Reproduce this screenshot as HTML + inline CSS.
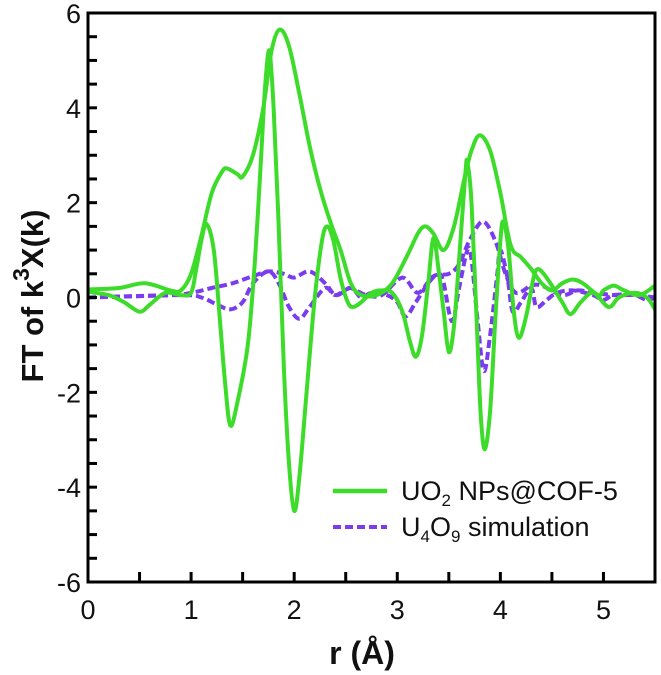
<!DOCTYPE html>
<html><head><meta charset="utf-8"><style>
html,body{margin:0;padding:0;background:#fff;}
svg{display:block;font-family:"Liberation Sans",Arial,sans-serif;}
</style></head><body>
<svg id="chart" width="661" height="675" viewBox="0 0 661 675">
<g id="marks"></g>
<g id="axes"></g>
<g>
  <line x1="333" y1="491" x2="387" y2="491" stroke="#3ddc2a" stroke-width="4.5"/>
  <text x="401" y="500" font-size="27" fill="#111">UO<tspan font-size="17" dy="6">2</tspan><tspan dy="-6"> NPs@COF-5</tspan></text>
  <line x1="333" y1="527" x2="387" y2="527" stroke="#7b3cf0" stroke-width="4" stroke-dasharray="8,4"/>
  <text x="401" y="536" font-size="27" fill="#111">U<tspan font-size="17" dy="6">4</tspan><tspan dy="-6">O</tspan><tspan font-size="17" dy="6">9</tspan><tspan dy="-6"> simulation</tspan></text>
</g>
<text x="362" y="664" font-size="32" font-weight="bold" text-anchor="middle" fill="#111">r (Å)</text>
<text transform="translate(43,296) rotate(-90)" font-size="31" font-weight="bold" text-anchor="middle" fill="#111">FT of k<tspan font-size="23" dy="-14">3</tspan><tspan dy="14">X(k)</tspan></text>
</svg>
<script>
const xTicks=[0,1,2,3,4,5];
const yTicks=[-6,-4,-2,0,2,4,6];
const uo2A_r=[0,0.3,0.55,0.8,0.9,1.0,1.1,1.2,1.3,1.35,1.45,1.5,1.6,1.7,1.78,1.86,1.95,2.05,2.15,2.25,2.35,2.45,2.55,2.65,2.8,2.95,3.1,3.2,3.27,3.35,3.45,3.55,3.65,3.72,3.8,3.9,4.0,4.1,4.2,4.3,4.4,4.5,4.6,4.7,4.8,4.95,5.0,5.1,5.2,5.35,5.5];
const uo2A_v=[0.17,0.2,0.3,0.15,0.15,0.5,1.3,2.2,2.65,2.72,2.6,2.55,3.0,4.0,5.2,5.65,5.3,4.3,3.2,2.3,1.6,1.0,0.3,0.05,0.05,0.3,0.9,1.35,1.5,1.35,1.0,1.5,2.5,3.1,3.42,3.1,2.2,1.1,0.85,0.6,0.3,0.15,0.3,0.38,0.3,0.05,0.15,0.25,0.15,0.05,0.25];
const uo2B_r=[0,0.2,0.35,0.5,0.6,0.75,0.9,1.0,1.05,1.1,1.15,1.22,1.28,1.33,1.38,1.45,1.55,1.62,1.68,1.72,1.76,1.8,1.85,1.9,1.95,2.0,2.05,2.12,2.2,2.27,2.32,2.38,2.45,2.52,2.57,2.65,2.75,2.85,2.95,3.05,3.12,3.18,3.24,3.3,3.35,3.4,3.45,3.5,3.55,3.6,3.66,3.68,3.72,3.77,3.81,3.85,3.9,3.95,4.0,4.03,4.08,4.13,4.18,4.25,4.32,4.36,4.42,4.5,4.6,4.68,4.78,4.9,5.05,5.15,5.3,5.42,5.5];
const uo2B_v=[0.12,0.05,-0.1,-0.3,-0.15,0.1,0.05,0.1,0.6,1.2,1.55,1.0,-0.5,-1.8,-2.7,-2.2,-1.0,0.8,3.0,4.5,5.2,4.0,1.5,-1.5,-3.5,-4.5,-3.8,-2.0,0.0,1.2,1.5,1.2,0.4,-0.1,-0.2,-0.1,0.1,0.15,0.1,-0.3,-0.9,-1.25,-0.8,0.3,1.25,0.6,-0.3,-1.15,-0.6,0.8,2.6,2.85,2.0,-0.5,-2.5,-3.2,-2.4,-0.5,1.2,1.6,1.0,-0.3,-0.85,-0.4,0.4,0.6,0.5,0.25,-0.1,-0.35,-0.1,0.1,-0.2,0.0,0.1,0.0,-0.25];
const simC_r=[0,0.8,1.0,1.2,1.4,1.6,1.75,1.9,2.0,2.15,2.3,2.4,2.5,2.55,2.7,2.85,3.05,3.2,3.35,3.5,3.6,3.7,3.83,3.95,4.05,4.15,4.3,4.4,4.6,4.75,4.9,5.1,5.3,5.5];
const simC_v=[0,0.05,0.1,0.2,0.3,0.45,0.55,0.5,0.42,0.55,0.3,0.05,0.15,0.2,0.05,0.05,0.42,0.1,0.45,0.5,0.7,1.2,1.6,1.2,0.5,0.1,0.25,0.25,0.05,0.15,0.1,0.05,0.05,0.0];
const simD_r=[0,0.9,1.1,1.25,1.38,1.5,1.6,1.75,1.85,1.95,2.05,2.15,2.3,2.4,2.55,2.65,2.75,2.9,3.0,3.08,3.18,3.3,3.4,3.45,3.53,3.6,3.68,3.72,3.78,3.84,3.9,3.97,4.0,4.07,4.12,4.2,4.3,4.35,4.45,4.55,4.7,4.9,5.0,5.1,5.3,5.42,5.5];
const simD_v=[0,0.05,0.0,-0.15,-0.25,-0.1,0.3,0.55,0.3,-0.2,-0.45,-0.2,0.2,0.05,0.2,0.0,0.1,0.05,-0.1,-0.4,-0.1,0.3,0.5,0.3,-0.5,0.2,1.0,0.8,-0.5,-1.55,-0.8,0.5,1.0,0.4,-0.3,-0.1,0.2,-0.2,-0.05,0.1,0.15,0.05,-0.05,0.05,0.05,-0.05,0.0];

const L=88,R=655,T=13,B=582,XMAX=5.5;
const sx=r=>L+r/XMAX*(R-L);
const sy=v=>B-(v+6)/12*(B-T);
const NS='http://www.w3.org/2000/svg';
function mk(tag,attrs,parent){const e=document.createElementNS(NS,tag);for(const k in attrs)e.setAttribute(k,attrs[k]);parent.appendChild(e);return e;}
function pathD(rs,vs){
  const p=rs.map((r,i)=>[sx(r),sy(vs[i])]);
  let d='M'+p[0][0].toFixed(1)+','+p[0][1].toFixed(1);
  for(let i=0;i<p.length-1;i++){
    const p0=p[Math.max(0,i-1)],p1=p[i],p2=p[i+1],p3=p[Math.min(p.length-1,i+2)];
    const c1=[p1[0]+(p2[0]-p0[0])/6,p1[1]+(p2[1]-p0[1])/6];
    const c2=[p2[0]-(p3[0]-p1[0])/6,p2[1]-(p3[1]-p1[1])/6];
    d+='C'+c1[0].toFixed(1)+','+c1[1].toFixed(1)+' '+c2[0].toFixed(1)+','+c2[1].toFixed(1)+' '+p2[0].toFixed(1)+','+p2[1].toFixed(1);
  }
  return d;
}
const marks=document.getElementById('marks');
const axes=document.getElementById('axes');
let e;
e=mk('path',{d:pathD(simC_r,simC_v),fill:'none',stroke:'#7b3cf0','stroke-width':4,'stroke-dasharray':'8,4'},marks);


e=mk('path',{d:pathD(simD_r,simD_v),fill:'none',stroke:'#7b3cf0','stroke-width':4,'stroke-dasharray':'8,4'},marks);


e=mk('path',{d:pathD(uo2A_r,uo2A_v),fill:'none',stroke:'#3ddc2a','stroke-width':4,'stroke-linejoin':'round'},marks);


e=mk('path',{d:pathD(uo2B_r,uo2B_v),fill:'none',stroke:'#3ddc2a','stroke-width':4,'stroke-linejoin':'round'},marks);


e=mk('rect',{x:L,y:T,width:R-L,height:B-T,fill:'none',stroke:'#000','stroke-width':3},axes);


for(let r=0.5;r<XMAX;r+=0.5){
  e=mk('line',{x1:sx(r),x2:sx(r),y1:B,y2:B-10,stroke:'#000','stroke-width':3},axes);
  
  
}
for(let v=-5.5;v<6;v+=0.5){
  e=mk('line',{x1:L,x2:L+9,y1:sy(v),y2:sy(v),stroke:'#000','stroke-width':3},axes);
  
  
}
xTicks.forEach(t=>{
  e=mk('text',{x:sx(t),y:619,'font-size':27,'text-anchor':'middle',fill:'#111'},axes);
  e.textContent=t;
  
  
});
yTicks.forEach(t=>{
  e=mk('text',{x:L-7,y:sy(t)+10,'font-size':27,'text-anchor':'end',fill:'#111'},axes);
  e.textContent=t;
  
  
});
</script>
</body></html>
